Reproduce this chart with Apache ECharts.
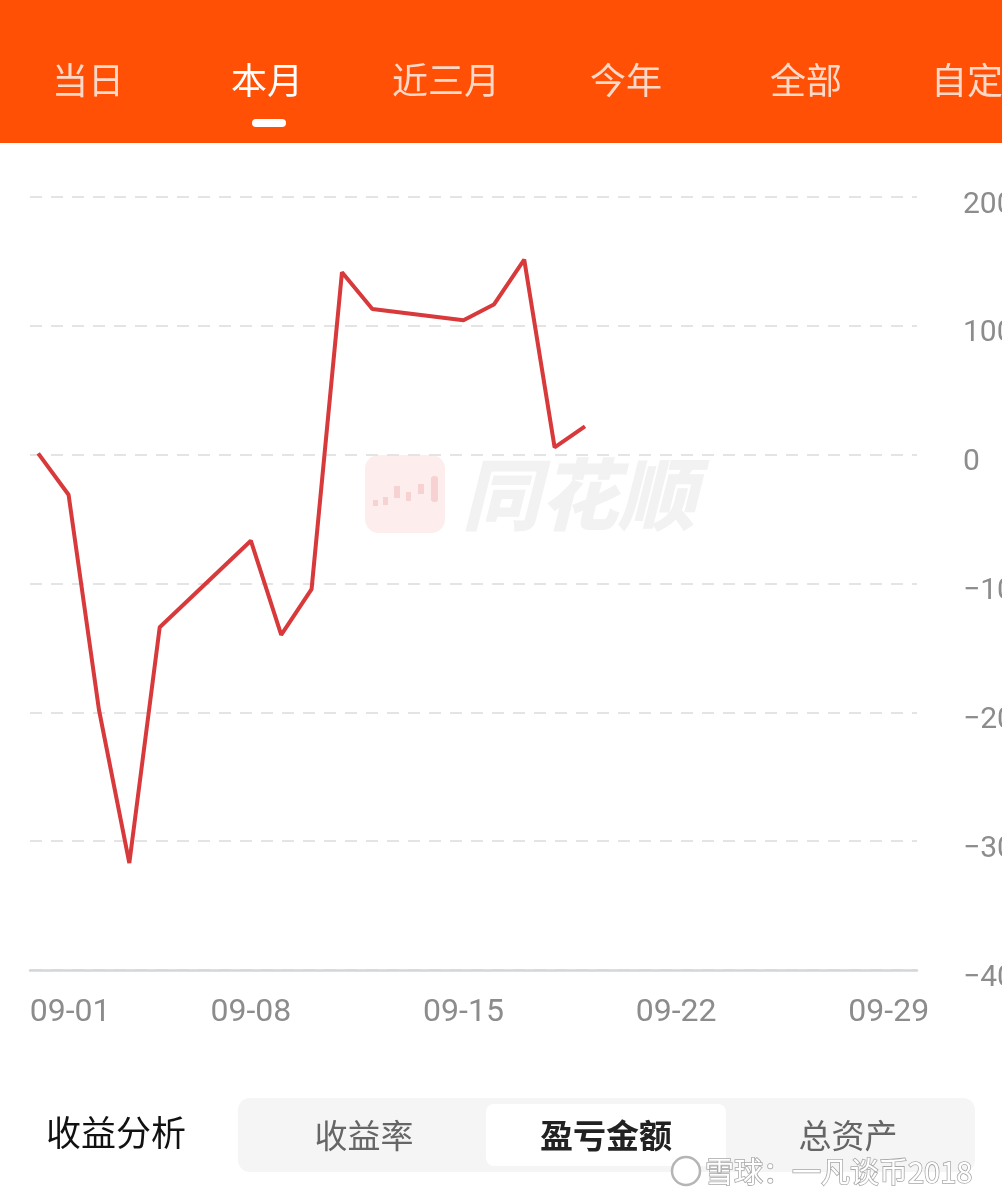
<!DOCTYPE html>
<html><head><meta charset="utf-8">
<script src="https://cdn.jsdelivr.net/npm/echarts@6/dist/echarts.min.js"></script>
<style>html,body{margin:0;padding:0;background:#fff;}#c{width:1002px;height:1203px;}</style>
</head><body><div id="c"></div>
<script>
// ---- data ----
const days = [1, 2, 3, 4, 5, 8, 9, 10, 11, 12, 15, 16, 17, 18, 19];           // September trading days
const profit = [10, -311, -1980, -3170, -1340, -668, -1398, -1043, 1416, 1131, 1044, 1165, 1514, 57, 220];
const xTickDays = [1, 8, 15, 22, 29];
const yMin = -4000, yMax = 2000, yStep = 1000;
const tabs = ['当日', '本月', '近三月', '今年', '全部', '自定义'];
const segments = ['收益率', '盈亏金额', '总资产'];
const sectionTitle = '收益分析';
const brandMark = '同花顺';
const credit = '雪球：一凡谈币2018';

const CJK = '"Noto Sans CJK SC", "Noto Sans", sans-serif';
const pad2 = n => (n < 10 ? '0' : '') + n;

const tabX = [88, 267, 446, 626, 806, 985];
const segX = [364, 606, 848];

const graphics = [
  { type: 'rect', z: 100, shape: { x: 0, y: 0, width: 1002, height: 143 }, style: { fill: '#FF5005' } },
  { type: 'rect', z: 101, shape: { x: 252, y: 119, width: 34, height: 8, r: 4 }, style: { fill: '#ffffff' } },
  // brand watermark
  { type: 'rect', z: -1, shape: { x: 365, y: 455, width: 80, height: 78, r: 14 }, style: { fill: '#fdeded' } },
  { type: 'rect', z: -1, shape: { x: 373, y: 500, width: 5, height: 6 }, style: { fill: '#f6d2d2' } },
  { type: 'rect', z: -1, shape: { x: 383, y: 497, width: 5, height: 8 }, style: { fill: '#f6d2d2' } },
  { type: 'rect', z: -1, shape: { x: 394, y: 486, width: 6, height: 12 }, style: { fill: '#f6d2d2' } },
  { type: 'rect', z: -1, shape: { x: 406, y: 492, width: 5, height: 9 }, style: { fill: '#f6d2d2' } },
  { type: 'rect', z: -1, shape: { x: 418, y: 484, width: 6, height: 10 }, style: { fill: '#f6d2d2' } },
  { type: 'rect', z: -1, shape: { x: 431, y: 476, width: 7, height: 26, r: 3 }, style: { fill: '#f6d2d2' } },
  { type: 'text', z: -1, x: 462, y: 494, style: { text: brandMark, font: 'italic 900 78px ' + CJK, fill: '#f2f2f2', textAlign: 'left', textVerticalAlign: 'middle' } },
  // bottom section
  { type: 'text', x: 46, y: 1133, style: { text: sectionTitle, font: '35px ' + CJK, fill: '#111111', textAlign: 'left', textVerticalAlign: 'middle' } },
  { type: 'rect', shape: { x: 238, y: 1098, width: 737, height: 74, r: 12 }, style: { fill: '#f5f5f5' } },
  { type: 'rect', shape: { x: 486, y: 1104, width: 240, height: 62, r: 8 }, style: { fill: '#ffffff' } },
  { type: 'circle', z: 110, shape: { cx: 686, cy: 1171, r: 14 }, style: { fill: '#ffffff', stroke: '#b5b5b5', lineWidth: 2.5 } },
  { type: 'text', z: 110, x: 705, y: 1172, style: { text: credit, font: '29px ' + CJK, fill: '#ffffff', stroke: '#a8a8a8', lineWidth: 1.6, textAlign: 'left', textVerticalAlign: 'middle' } }
];
tabs.forEach((t, i) => {
  graphics.push({ type: 'text', z: 102, x: tabX[i], y: 80, style: {
    text: t, font: '36px ' + CJK, fill: i === 1 ? '#ffffff' : 'rgba(255,255,255,0.78)',
    textAlign: 'center', textVerticalAlign: 'middle' } });
});
segments.forEach((t, i) => {
  graphics.push({ type: 'text', z: 5, x: segX[i], y: 1135, style: {
    text: t, font: (i === 1 ? 'bold ' : '') + '33px ' + CJK, fill: i === 1 ? '#222222' : '#666666',
    textAlign: 'center', textVerticalAlign: 'middle' } });
});

const chart = echarts.init(document.getElementById('c'), null, { renderer: 'canvas' });
chart.setOption({
  animation: false,
  backgroundColor: '#ffffff',
  grid: { left: 30, right: 85, top: 197, bottom: 233, containLabel: false, outerBoundsMode: 'none' },
  xAxis: {
    type: 'value', min: 0.73, max: 29.93,
    axisLine: { show: true, onZero: false, lineStyle: { color: '#d3d7da', width: 2.5 } },
    axisTick: { show: false },
    splitLine: { show: false },
    axisLabel: {
      customValues: xTickDays,
      margin: 27, color: '#8c8c8c', fontSize: 32, fontFamily: 'Roboto',
      formatter: v => v === xTickDays[0] ? '{f|09-' + pad2(v) + '}' : '09-' + pad2(v),
      rich: { f: { padding: [0, 0, 0, 64], color: '#8c8c8c', fontSize: 32, fontFamily: 'Roboto' } }
    }
  },
  yAxis: {
    type: 'value', position: 'right', min: yMin, max: yMax, interval: yStep,
    axisLine: { show: false }, axisTick: { show: false },
    splitLine: { show: true, lineStyle: { color: '#e4e4e4', width: 2, type: [12, 9] } },
    axisLabel: {
      margin: 46, color: '#8c8c8c', fontSize: 30, fontFamily: 'Roboto', align: 'left',
      hideOverlap: false,
      formatter: v => '{v|' + (v < 0 ? '\u2212' + Math.abs(v) : String(v)) + '}',
      rich: { v: { padding: [16, 0, 0, 0], color: '#8c8c8c', fontSize: 30, fontFamily: 'Roboto' } }
    }
  },
  series: [{
    type: 'line', data: days.map((d, i) => [d, profit[i]]),
    showSymbol: false, smooth: false,
    lineStyle: { color: '#d8393b', width: 4 }, z: 3
  }],
  graphic: { elements: graphics }
});
</script></body></html>
